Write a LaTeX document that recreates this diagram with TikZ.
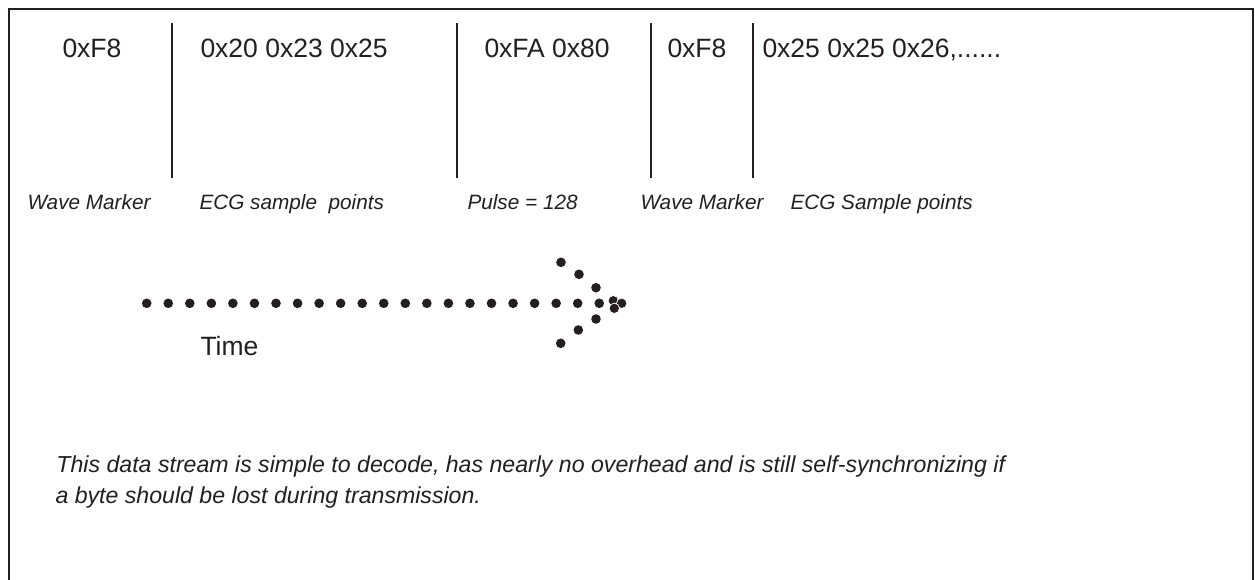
\documentclass[tikz,border=0pt]{standalone}
\usepackage{fontspec}
\setmainfont{Liberation Sans}
\definecolor{ink}{RGB}{35,31,32}
\begin{document}
\begin{tikzpicture}[x=0.4pt,y=-0.4pt,
	bytes/.style={anchor=base west,inner sep=0pt,font=\fontsize{10.6}{12}\selectfont,text=ink},
	fieldname/.style={anchor=base west,inner sep=0pt,font=\fontsize{8.3}{10}\selectfont\itshape,text=ink},
	note/.style={anchor=base west,inner sep=0pt,font=\fontsize{9.25}{12}\selectfont\itshape,text=ink},
	sep/.style={draw=ink,line width=1pt},
	tdot/.style={fill=ink,draw=white,line width=0.3pt}]
	\useasboundingbox (0,0) rectangle (1255,580);
	\clip (0,0) rectangle (1255,580);
	
	%Frame, open at the bottom
	\draw [draw=ink,line width=1.1pt] (9,600) -- (9,9) -- (1253,9) -- (1253,600) ;
	
	%Field separators
	\foreach \sx in {172,457,651,753}
		\draw [sep] (\sx,23) -- (\sx,178) ;
	
	% Text Node
	\node [bytes] (mk1) at (62,57) {0xF8};
	% Text Node
	\node [bytes] (ecg1) at (200,57) {0x20 0x23 0x25};
	% Text Node
	\node [bytes] (pls) at (484,57) {0xFA 0x80};
	% Text Node
	\node [bytes] (mk2) at (667,57) {0xF8};
	% Text Node
	\node [bytes] (ecg2) at (762,57) {0x25 0x25 0x26,......};
	
	% Text Node
	\node [fieldname] (mk1lbl) at (27,209) {Wave Marker};
	% Text Node
	\node [fieldname] (ecg1lbl) at (199,209) {ECG sample\ \ points};
	% Text Node
	\node [fieldname] (plslbl) at (467,209) {Pulse = 128};
	% Text Node
	\node [fieldname] (mk2lbl) at (640,209) {Wave Marker};
	% Text Node
	\node [fieldname] (ecg2lbl) at (790,209) {ECG Sample points};
	
	%Dotted time arrow
	\foreach \i in {0,...,21}
		\fill [ink] (146.7+21.55*\i,303.3) circle (4.8) ;
	\foreach \p in {(561,262.3),(579,274.3),(596,287.7),(596,319),(578.3,330),(560.7,343.3)}
		\fill [ink] \p circle (4.8) ;
	\foreach \p in {(613.3,300.7),(621.7,303.3),(614.3,308.3)}
		\path [tdot] \p circle (5.2) ;
	
	% Text Node
	\node [bytes] (time) at (200,355) {Time};
	
	% Text Node
	\node [note] (note1) at (56,472) {This data stream is simple to decode, has nearly no overhead and is still self-synchronizing if};
	% Text Node
	\node [note] (note2) at (55,503) {a byte should be lost during transmission.};
\end{tikzpicture}
\end{document}
